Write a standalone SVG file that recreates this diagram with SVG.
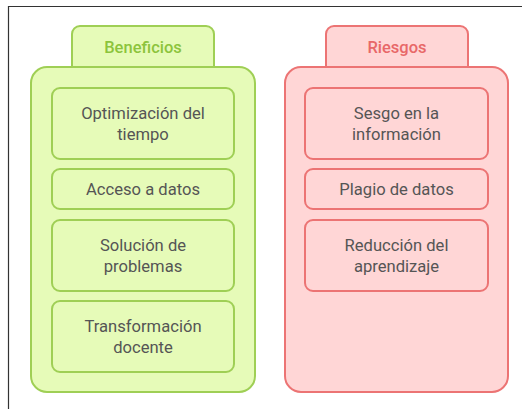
<svg xmlns="http://www.w3.org/2000/svg" width="522" height="409" viewBox="0 0 522 409">
<style>
.g{fill:#e6fbb8;stroke:#9fcf55;stroke-width:2}
.r{fill:#ffd6d6;stroke:#ec7474;stroke-width:2}
.t{font-family:Roboto,"Liberation Sans",sans-serif;font-size:16.6px;fill:#555;text-anchor:middle}
.h{font-family:Roboto,"Liberation Sans",sans-serif;font-size:16.5px;font-weight:500;text-anchor:middle}
</style>
<rect width="522" height="409" fill="#fff"/>
<path d="M8.5 409V6.5H522" fill="none" stroke="#333" stroke-width="1.2"/>
<g id="beneficios">
<rect class="g" x="72" y="26" width="142" height="60" rx="8"/>
<text class="h" x="143" y="52.5" fill="#8cc43c">Beneficios</text>
<rect class="g" x="31" y="67" width="224" height="325" rx="16"/>
</g>
<g id="riesgos">
<rect class="r" x="326" y="26" width="142" height="60" rx="8"/>
<text class="h" x="397" y="52.5" fill="#e86868">Riesgos</text>
<rect class="r" x="285" y="67" width="223" height="325" rx="16"/>
</g>
<g id="b1"><rect class="g" x="52" y="88" width="182" height="71" rx="8"/><text class="t" x="143" y="118.5">Optimización del</text><text class="t" x="143" y="139.5">tiempo</text></g>
<g id="b2"><rect class="g" x="52" y="169" width="182" height="40" rx="8"/><text class="t" x="143" y="195">Acceso a datos</text></g>
<g id="b3"><rect class="g" x="52" y="220" width="182" height="71" rx="8"/><text class="t" x="143" y="250.5">Solución de</text><text class="t" x="143" y="271.5">problemas</text></g>
<g id="b4"><rect class="g" x="52" y="301" width="182" height="71" rx="8"/><text class="t" x="143" y="331.5">Transformación</text><text class="t" x="143" y="352.5">docente</text></g>
<g id="r1"><rect class="r" x="305" y="88" width="183" height="71" rx="8"/><text class="t" x="396.5" y="118.5">Sesgo en la</text><text class="t" x="396.5" y="139.5">información</text></g>
<g id="r2"><rect class="r" x="305" y="169" width="183" height="40" rx="8"/><text class="t" x="396.5" y="195">Plagio de datos</text></g>
<g id="r3"><rect class="r" x="305" y="220" width="183" height="71" rx="8"/><text class="t" x="396.5" y="250.5">Reducción del</text><text class="t" x="396.5" y="271.5">aprendizaje</text></g>
<g id="connectors"/>
</svg>
